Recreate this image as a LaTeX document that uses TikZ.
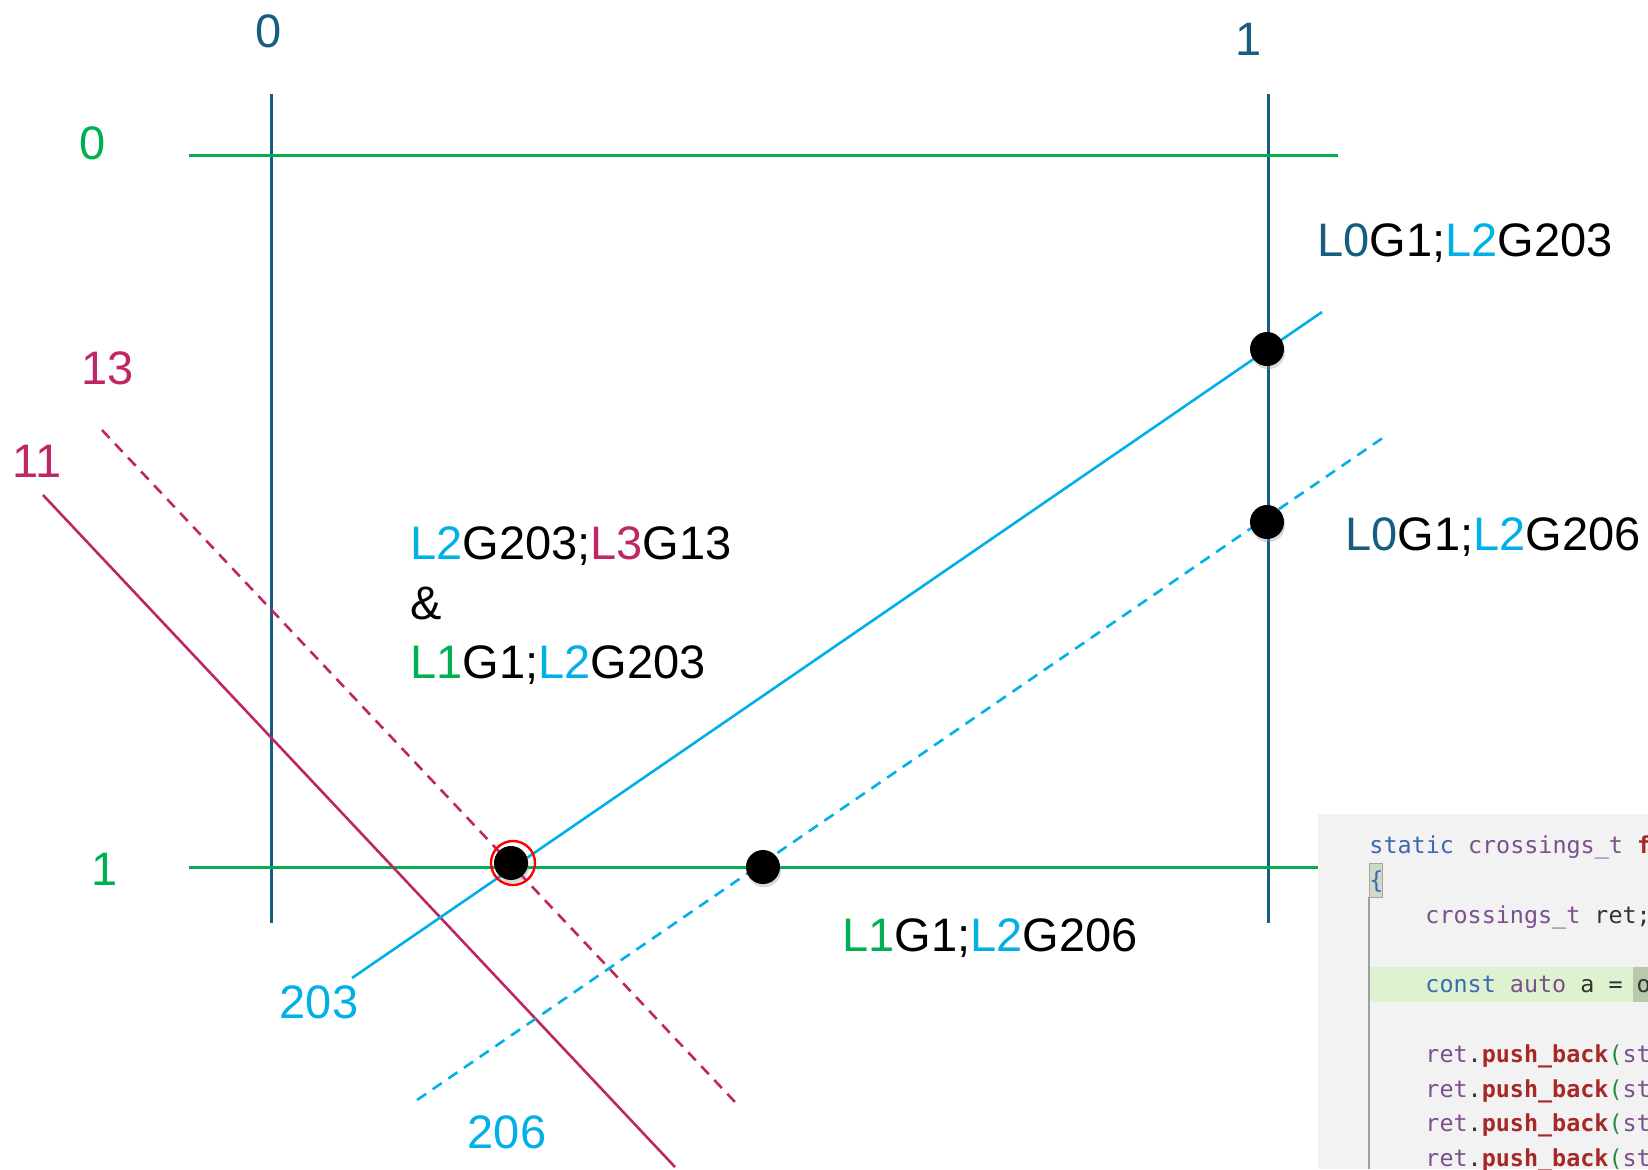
\documentclass[tikz,border=0pt]{standalone}
\usepackage{fontspec}
\setmainfont{Liberation Sans}
\newfontfamily\codefont{DejaVu Sans Mono}
\usepackage{xcolor}
\usepackage{tikz}
\usetikzlibrary{shadows}

\definecolor{lzero}{RGB}{22,94,128}
\definecolor{lone}{RGB}{0,176,80}
\definecolor{ltwo}{RGB}{0,176,230}
\definecolor{lthree}{RGB}{190,38,102}
\definecolor{codebg}{RGB}{242,242,242}
\definecolor{codeline}{RGB}{222,242,208}
\definecolor{codemark}{RGB}{184,200,172}
\definecolor{kwblue}{RGB}{58,106,176}
\definecolor{typepurple}{RGB}{124,80,142}
\definecolor{fnred}{RGB}{168,40,40}
\definecolor{parengreen}{RGB}{40,140,70}
\definecolor{plaingray}{RGB}{51,51,51}

\newcommand{\lbl}{\fontsize{23.5}{28}\selectfont}
\newcommand{\code}{\codefont\fontsize{11.7}{14}\selectfont}

\begin{document}
\begin{tikzpicture}[x=0.5pt, y=-0.5pt,
		gridzero/.style={lzero, line width=1.5pt},
		gridone/.style={lone, line width=1.5pt},
		gridtwo/.style={ltwo, line width=1.3pt},
		gridthree/.style={lthree, line width=1.3pt},
		dashtwo/.style={gridtwo, dash pattern=on 5.5pt off 4pt},
		dashthree/.style={gridthree, dash pattern=on 5.5pt off 4pt},
		lab/.style={inner sep=0pt, font=\lbl},
		codetxt/.style={inner sep=0pt, anchor=base west, font=\code},
		crossdot/.style={circle, fill=black, minimum size=17pt, inner sep=0pt,
			drop shadow={shadow xshift=0.6pt, shadow yshift=-1.6pt, opacity=0.3}}]
	\useasboundingbox (0,0) rectangle (1648,1169);
	
	% Line ends
	\coordinate (vzt) at (271,94);   \coordinate (vzb) at (271,923);
	\coordinate (vot) at (1268,94);  \coordinate (vob) at (1268,923);
	\coordinate (hzl) at (189,155);  \coordinate (hzr) at (1338,155);
	\coordinate (hol) at (189,867);  \coordinate (hor) at (1318,867);
	\coordinate (ta) at (352,978);   \coordinate (tb) at (1322,312);
	\coordinate (sa) at (417,1100);  \coordinate (sb) at (1387,435);
	\coordinate (ma) at (102,430);   \coordinate (mb) at (735,1102);
	\coordinate (na) at (43,495);    \coordinate (nb) at (675,1167);
	
	% L0 lines
	\draw[gridzero] (vzt) -- (vzb);
	\draw[gridzero] (vot) -- (vob);
	
	% L1 lines
	\draw[gridone] (hzl) -- (hzr);
	\draw[gridone] (hol) -- (hor);
	
	% L3 lines
	\draw[dashthree] (ma) -- (mb);
	\draw[gridthree] (na) -- (nb);
	
	% L2 lines
	\draw[gridtwo] (ta) -- (tb);
	\draw[dashtwo] (sa) -- (sb);
	
	% Line numbers
	\node[lab, anchor=base, text=lzero] (nvz) at (269,47) {0};
	\node[lab, anchor=base, text=lzero] (nvo) at (1249,55) {1};
	\node[lab, anchor=base, text=lone] (nhz) at (93,159) {0};
	\node[lab, anchor=base, text=lone] (nho) at (105,885) {1};
	\node[lab, anchor=base, text=lthree] (nm) at (108,384) {13};
	\node[lab, anchor=base, text=lthree] (nn) at (37,477) {11};
	\node[lab, anchor=base, text=ltwo] (nt) at (319,1018) {203};
	\node[lab, anchor=base, text=ltwo] (ns) at (507,1148) {206};
	
	% Crossings
	\node[crossdot] (cta) at (1267,349) {};
	\node[crossdot] (csa) at (1267,522) {};
	\node[crossdot] (cso) at (763,867) {};
	\node[crossdot] (cto) at (511,863) {};
	\draw[red, line width=1.2pt] (513,863) circle (22);
	
	% Crossing names
	\node[lab, anchor=base west] (lta) at (1317,256)
		{\textcolor{lzero}{L0}G1;\textcolor{ltwo}{L2}G203};
	\node[lab, anchor=base west] (lsa) at (1345,550)
		{\textcolor{lzero}{L0}G1;\textcolor{ltwo}{L2}G206};
	\node[lab, anchor=base west] (lso) at (842,951)
		{\textcolor{lone}{L1}G1;\textcolor{ltwo}{L2}G206};
	\node[lab, anchor=base west] (ltoa) at (410,559)
		{\textcolor{ltwo}{L2}G203;\textcolor{lthree}{L3}G13};
	\node[lab, anchor=base west] (ltob) at (410,619) {\&};
	\node[lab, anchor=base west] (ltoc) at (410,678)
		{\textcolor{lone}{L1}G1;\textcolor{ltwo}{L2}G203};
	
	% Code snippet
	\begin{scope}
		\clip (1318,814) rectangle (1648,1169);
		\fill[codebg] (1318,814) rectangle (1648,1169);
		\fill[codeline] (1369,967) rectangle (1648,1002);
		\fill[codemark] (1633,967) rectangle (1648,1002);
		\filldraw[fill=codemark!60!codebg, draw=gray!70] (1369,863) rectangle (1382,897);
		\draw[gray!75, line width=0.75pt] (1369,897) -- (1369,1169);
		\node[codetxt] (ca) at (1369,853)
			{\textcolor{kwblue}{static} \textcolor{typepurple}{crossings\_t} \textcolor{fnred}{\bfseries f}};
		\node[codetxt] (cb) at (1369,888) {\textcolor{kwblue}{\{}};
		\node[codetxt] (cc) at (1425,923)
			{\textcolor{typepurple}{crossings\_t} \textcolor{plaingray}{ret;}};
		\node[codetxt] (cd) at (1425,992)
			{\textcolor{kwblue}{const} \textcolor{typepurple}{auto} \textcolor{plaingray}{a = o}};
		\foreach \yy [count=\i] in {1062,1097,1131,1166}
			\node[codetxt] (ce\i) at (1425,\yy)
				{\textcolor{typepurple}{ret}\textcolor{plaingray}{.}\textcolor{fnred}{\bfseries push\_back}\textcolor{parengreen}{(}\textcolor{typepurple}{st}};
	\end{scope}
	
\end{tikzpicture}
\end{document}
